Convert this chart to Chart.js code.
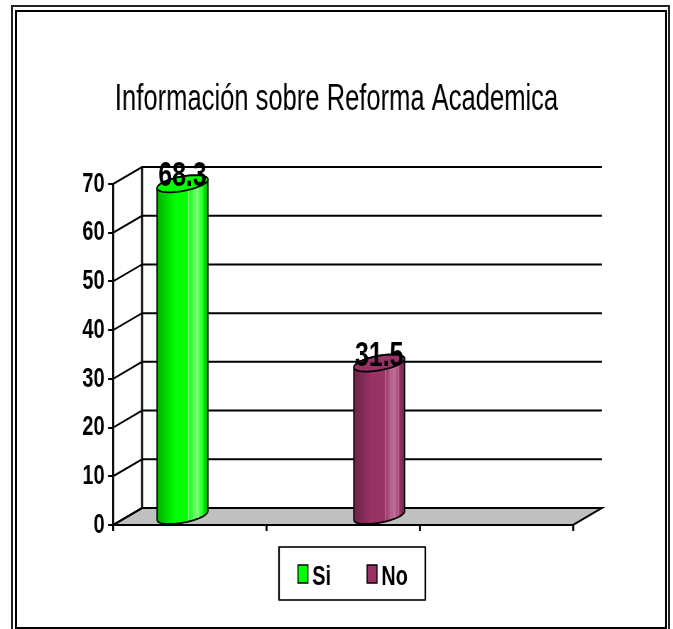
<!DOCTYPE html>
<html>
<head>
<meta charset="utf-8">
<script src="https://cdn.jsdelivr.net/npm/chart.js@4.4.1/dist/chart.umd.min.js"></script>
<style>
html,body{margin:0;padding:0;background:#fff;overflow:hidden;}
#frame1{position:absolute;left:11px;top:5px;width:659px;height:640px;border:2px solid #222;box-sizing:border-box;}
#frame2{position:absolute;left:15px;top:10px;width:652px;height:619px;border:2px solid #000;box-sizing:border-box;}
#wrap{position:absolute;left:0;top:0;width:948px;height:629px;transform:scaleX(0.71);transform-origin:0 0;}
canvas{display:block;}
</style>
</head>
<body>
<div id="frame1"></div><div id="frame2"></div>
<div id="wrap"><canvas id="chart" width="948" height="629"></canvas></div>
<script>
// data
const categories = ["", "", ""];
const seriesNames = ["Si", "No"];
const siValues = [68.3, null, null];
const noValues = [null, 31.5, null];
const seriesColors = ["#00ff00", "#993366"];
const seriesDark = ["#00b000", "#6e2249"];
const seriesLight = ["#7dff7d", "#c07099"];
const titleText = "Información sobre Reforma Academica";

// the whole picture is narrow (Excel chart stretched), canvas is squeezed by css
const SX = 0.71;
const DX = 29 / SX;   // depth offset
const DY = -17;

function line(ctx, pts){
  ctx.beginPath();
  ctx.moveTo(pts[0][0], pts[0][1]);
  for(let i=1;i<pts.length;i++) ctx.lineTo(pts[i][0], pts[i][1]);
  ctx.stroke();
}

const wallPlugin = {
  id: "wall",
  beforeDraw(chart){
    const ctx = chart.ctx, a = chart.chartArea, y = chart.scales.y;
    ctx.save();
    // floor
    ctx.beginPath();
    ctx.moveTo(a.left, a.bottom);
    ctx.lineTo(a.right, a.bottom);
    ctx.lineTo(a.right+DX, a.bottom+DY);
    ctx.lineTo(a.left+DX, a.bottom+DY);
    ctx.closePath();
    ctx.fillStyle = "#c0c0c0";
    ctx.fill();
    ctx.strokeStyle = "#000";
    ctx.lineWidth = 2;
    ctx.stroke();
    // gridlines on side + back wall
    y.ticks.forEach(t => {
      const py = y.getPixelForValue(t.value);
      line(ctx, [[a.left, py], [a.left+DX, py+DY], [a.right+DX, py+DY]]);
    });
    ctx.lineWidth = 2/SX;
    line(ctx, [[a.left+DX, a.bottom+DY], [a.left+DX, a.top+DY]]);
    ctx.restore();
  },
  beforeDatasetDraw(chart, args){
    const ctx = chart.ctx;
    const i = args.index;
    const meta = args.meta;
    meta.data.forEach((bar, j) => {
      const v = chart.data.datasets[i].data[j];
      if(v === null || v === undefined) return;
      const p = bar.getProps(["x","y","base","width"], true);
      const cx = p.x + DX/2;
      const yt = p.y + DY/2;
      const yb = p.base + DY/2;
      const half = p.width/2;
      const b = half*0.51, aa = Math.sqrt(half*half - b*b), c = 8.5;
      const phi = Math.atan2(b, aa);
      const ex = (cy, t) => [cx + aa*Math.cos(t) + b*Math.sin(t), cy - c*Math.sin(t)];
      const body = () => {
        ctx.beginPath();
        for(let k=0;k<=40;k++){
          const t = Math.PI + phi + Math.PI*k/40;
          const q = ex(yb, t);
          k===0 ? ctx.moveTo(q[0], q[1]) : ctx.lineTo(q[0], q[1]);
        }
        for(let k=0;k<=40;k++){
          const q = ex(yt, phi + Math.PI*k/40);
          ctx.lineTo(q[0], q[1]);
        }
        ctx.closePath();
      };
      ctx.save();
      body();
      const g = ctx.createLinearGradient(cx-half, 0, cx+half, 0);
      g.addColorStop(0, seriesDark[i]);
      g.addColorStop(0.35, seriesColors[i]);
      g.addColorStop(0.6, seriesColors[i]);
      g.addColorStop(0.8, seriesLight[i]);
      g.addColorStop(0.9, seriesColors[i]);
      g.addColorStop(1, seriesDark[i]);
      ctx.fillStyle = g;
      ctx.fill();
      // light stripes on the right side
      ctx.save();
      ctx.clip();
      ctx.strokeStyle = seriesLight[i];
      ctx.lineWidth = 1.4;
      [0.62, 0.72, 0.8, 0.88].forEach(f => {
        const sx = cx - half + f*2*half;
        line(ctx, [[sx, yt-20], [sx, yb+20]]);
      });
      ctx.restore();
      body();
      ctx.strokeStyle = "#000";
      ctx.lineWidth = 1.8;
      ctx.stroke();
      // top
      ctx.beginPath();
      for(let k=0;k<=60;k++){
        const q = ex(yt, 2*Math.PI*k/60);
        k===0 ? ctx.moveTo(q[0], q[1]) : ctx.lineTo(q[0], q[1]);
      }
      ctx.closePath();
      ctx.fillStyle = seriesColors[i];
      ctx.fill();
      ctx.stroke();
      ctx.restore();
    });
    return false;
  },
  afterDatasetsDraw(chart){
    const ctx = chart.ctx;
    ctx.save();
    ctx.fillStyle = "#000";
    ctx.font = "bold 35px 'Liberation Sans', Arial, sans-serif";
    ctx.textAlign = "center";
    ctx.textBaseline = "alphabetic";
    chart.data.datasets.forEach((ds, i) => {
      chart.getDatasetMeta(i).data.forEach((bar, j) => {
        const v = ds.data[j];
        if(v === null || v === undefined) return;
        const cy = bar.y + DY/2 - 10;
        ctx.fillText(v.toFixed(1), bar.x + DX/2, cy + 0.358*35);
      });
    });
    ctx.restore();
  },
  afterDraw(chart){
    // legend with a frame
    const ctx = chart.ctx;
    const L = 393, T = 547, W = 206, H = 53;
    ctx.save();
    ctx.strokeStyle = "#000";
    ctx.lineWidth = 1.6;
    ctx.strokeRect(L, T, W, H);
    ctx.lineWidth = 1.6/SX;
    line(ctx, [[L, T], [L, T+H]]);
    line(ctx, [[L+W, T], [L+W, T+H]]);
    const mx = [419.7, 517];
    ctx.font = "bold 28px 'Liberation Sans', Arial, sans-serif";
    ctx.textBaseline = "alphabetic";
    ctx.textAlign = "left";
    chart.data.datasets.forEach((ds, i) => {
      ctx.fillStyle = seriesColors[i];
      ctx.fillRect(mx[i], 565, 14, 18);
      ctx.lineWidth = 1.5;
      ctx.strokeRect(mx[i], 565, 14, 18);
      ctx.fillStyle = "#000";
      ctx.fillText(ds.label, mx[i] + 20, 585);
    });
    ctx.restore();
  }
};

new Chart(document.getElementById("chart"), {
  type: "bar",
  data: {
    labels: categories,
    datasets: [
      { label: seriesNames[0], data: siValues, backgroundColor: seriesColors[0] },
      { label: seriesNames[1], data: noValues, backgroundColor: seriesColors[1] }
    ]
  },
  options: {
    responsive: false,
    animation: false,
    barPercentage: 1.17,
    categoryPercentage: 0.567,
    layout: { padding: 0 },
    plugins: {
      legend: { display: false },
      tooltip: { enabled: false },
      title: {
        display: true,
        text: titleText,
        color: "#000",
        font: { family: "'Liberation Sans', Arial, sans-serif", size: 36, weight: "normal" },
        padding: { top: 78.4, bottom: 62.4 }
      }
    },
    scales: {
      x: {
        grid: { display: true, drawOnChartArea: false, drawTicks: true, tickLength: 6, color: "#000", lineWidth: 2/SX, offset: true },
        border: { display: true, color: "#000", width: 2 },
        ticks: { display: false },
        afterFit(s){ s.height = 104; }
      },
      y: {
        min: 0,
        max: 70,
        ticks: {
          stepSize: 10,
          color: "#000",
          padding: 5,
          font: { family: "'Liberation Sans', Arial, sans-serif", size: 28, weight: "bold" }
        },
        grid: { display: true, drawOnChartArea: false, drawTicks: true, tickLength: 7, color: "#000", lineWidth: 2 },
        border: { display: true, color: "#000", width: 2/SX },
        afterFit(s){ s.width = 159.2; }
      },
      // empty room on the right for the depth of the floor and wall
      yRight: {
        position: "right",
        min: 0,
        max: 70,
        ticks: { display: false },
        grid: { display: false },
        border: { display: false },
        afterFit(s){ s.width = 141; }
      }
    }
  },
  plugins: [wallPlugin]
});
</script>
</body>
</html>
